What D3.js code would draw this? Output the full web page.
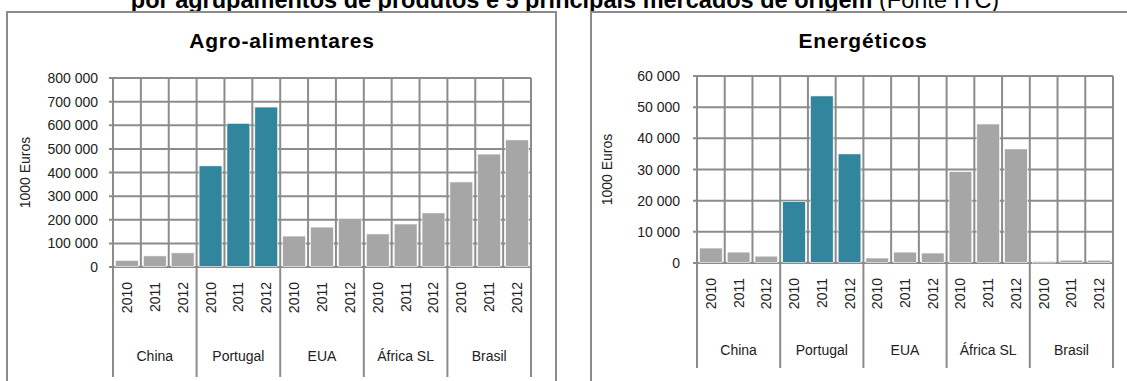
<!DOCTYPE html>
<html>
<head>
<meta charset="utf-8">
<script src="https://cdn.jsdelivr.net/npm/d3@7"></script>
<style>
  body { margin: 0; background: #fff; }
  svg { display: block; font-family: Arial, "Liberation Sans", sans-serif; }
</style>
</head>
<body>
<svg id="chart" width="1127" height="381"></svg>
<script>
// dados (1000 Euros)
const groups = ["China", "Portugal", "EUA", "África SL", "Brasil"]
const years = ["2010", "2011", "2012"]
const highlight = "Portugal"

const agroValues = [
  28000, 47000, 60000,
  428000, 608000, 677000,
  131000, 169000, 206000,
  140000, 182000, 229000,
  360000, 478000, 538000
]
const energValues = [
  4800, 3500, 2200,
  19700, 53600, 35000,
  1600, 3500, 3200,
  29300, 44600, 36600,
  500, 900, 900
]
const agroTicks = [0, 100000, 200000, 300000, 400000, 500000, 600000, 700000, 800000]
const energTicks = [0, 10000, 20000, 30000, 40000, 50000, 60000]

const pt = d3.formatLocale({ decimal: ",", thousands: " ", grouping: [3], currency: ["", ""] })
const fmt = pt.format(",")

const gridColor = "#8c8c8c"
const greyBar = "#a6a6a6"
const tealBar = "#31859c"

const svg = d3.select("#chart")

// titulo geral (cortado no topo)
const head = svg.append("text")
  .attr("x", 565).attr("y", 8)
  .attr("text-anchor", "middle")
  .style("font-size", "23.5px")
head.append("tspan").style("font-weight", "bold")
  .text("por agrupamentos de produtos e 5 principais mercados de origem ")
head.append("tspan").text("(Fonte ITC)")

// molduras dos paineis
svg.append("path")
  .attr("d", "M7,390V12H556V390")
  .attr("fill", "none").attr("stroke", gridColor).attr("stroke-width", 2)
svg.append("path")
  .attr("d", "M591,390V12H1140")
  .attr("fill", "none").attr("stroke", gridColor).attr("stroke-width", 2)

function drawPanel(opt) {
  const g = svg.append("g")
  const cats = []
  groups.forEach(gr => years.forEach(yr => cats.push({ group: gr, year: yr })))
  cats.forEach((c, i) => c.value = opt.values[i])

  const x = d3.scaleBand().domain(d3.range(cats.length)).range([opt.x0, opt.x1])
  const y = d3.scaleLinear().domain([0, d3.max(opt.ticks)]).range([opt.yZero, opt.yTop])
  const bw = x.bandwidth()

  // titulo
  g.append("text")
    .attr("x", opt.cx).attr("y", 48)
    .attr("text-anchor", "middle")
    .style("font-size", "21px").style("font-weight", "bold")
    .style("letter-spacing", "0.8px")
    .text(opt.title)

  // eixo y titulo
  g.append("text")
    .attr("transform", `translate(${opt.yTitleX},${(opt.yTop + opt.yZero) / 2}) rotate(-90)`)
    .attr("text-anchor", "middle")
    .attr("dominant-baseline", "central")
    .style("font-size", "14px").attr("fill", "#222")
    .text("1000 Euros")

  // grelha horizontal
  g.selectAll(".hgrid").data(opt.ticks).join("line")
    .attr("x1", opt.x0 - 4).attr("x2", opt.x1)
    .attr("y1", d => y(d)).attr("y2", d => y(d))
    .attr("stroke", gridColor).attr("stroke-width", 2)

  // grelha vertical
  const bounds = d3.range(cats.length + 1).map(i => opt.x0 + i * bw)
  g.selectAll(".vgrid").data(bounds).join("line")
    .attr("x1", d => d).attr("x2", d => d)
    .attr("y1", opt.yTop).attr("y2", opt.yZero)
    .attr("stroke", gridColor).attr("stroke-width", 2)

  // barras
  g.selectAll(".bar").data(cats).join("rect")
    .attr("x", (d, i) => x(i) + 2.5)
    .attr("width", bw - 5)
    .attr("y", d => y(d.value))
    .attr("height", d => Math.max(1.5, opt.yZero - y(d.value) - 0.5))
    .attr("fill", d => d.group === highlight ? tealBar : greyBar)
    .attr("stroke", "#fff").attr("stroke-width", 0.6)

  // etiquetas eixo y
  g.selectAll(".ylab").data(opt.ticks).join("text")
    .attr("x", opt.x0 - opt.labelGap).attr("y", d => y(d))
    .attr("text-anchor", "end").attr("dominant-baseline", "central")
    .style("font-size", "14px").attr("fill", "#222")
    .text(d => fmt(d))

  // eixo das categorias
  const groupBounds = d3.range(groups.length + 1).map(i => opt.x0 + i * bw * years.length)
  g.selectAll(".gsep").data(groupBounds).join("line")
    .attr("x1", d => d).attr("x2", d => d)
    .attr("y1", opt.yZero).attr("y2", opt.yZero + opt.sepLen)
    .attr("stroke", gridColor).attr("stroke-width", 2)

  g.selectAll(".year").data(cats).join("text")
    .attr("transform", (d, i) => `translate(${x(i) + bw / 2},${opt.yZero + 15}) rotate(-90)`)
    .attr("text-anchor", "end").attr("dominant-baseline", "central")
    .style("font-size", "14px").attr("fill", "#222")
    .text(d => d.year)

  g.selectAll(".glab").data(groups).join("text")
    .attr("x", (d, i) => opt.x0 + (i + 0.5) * bw * years.length)
    .attr("y", opt.yZero + opt.groupDy)
    .attr("text-anchor", "middle").attr("dominant-baseline", "central")
    .style("font-size", "14px").attr("fill", "#222")
    .text(d => d)
}

drawPanel({
  title: "Agro-alimentares", values: agroValues, ticks: agroTicks,
  x0: 113, x1: 531, yTop: 78, yZero: 267, cx: 282, yTitleX: 25, labelGap: 15,
  sepLen: 110, groupDy: 89
})
drawPanel({
  title: "Energéticos", values: energValues, ticks: energTicks,
  x0: 697, x1: 1113, yTop: 76, yZero: 263, cx: 863, yTitleX: 607, labelGap: 17,
  sepLen: 105, groupDy: 87
})
</script>
</body>
</html>
